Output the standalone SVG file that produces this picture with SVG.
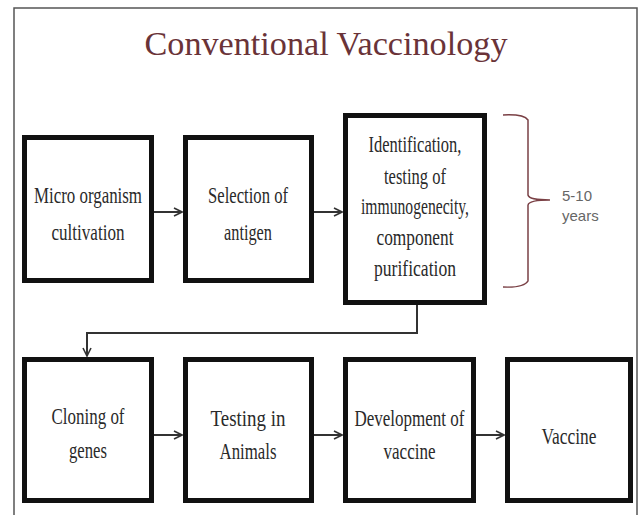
<svg xmlns="http://www.w3.org/2000/svg" width="641" height="515" viewBox="0 0 641 515">
<style>
.frame{fill:none;stroke:#555;stroke-width:1.5}
.box{fill:#fff;stroke:#111;stroke-width:5}
.t{font-family:"Liberation Serif","Times New Roman",serif;font-size:23px;fill:#2a2a2a;text-anchor:middle}
.title{font-family:"Liberation Serif","Times New Roman",serif;font-size:34px;fill:#6a3338;text-anchor:middle}
.side{font-family:"Liberation Sans",Arial,sans-serif;font-size:15px;fill:#666}
.conn{fill:none;stroke:#333;stroke-width:2}
.brace{fill:none;stroke:#7a4045;stroke-width:1.5}
</style>
<defs>
<marker id="arr" viewBox="0 0 10 10" refX="9" refY="5" markerWidth="10" markerHeight="10" markerUnits="userSpaceOnUse" orient="auto">
<path d="M1,1 L9,5 L1,9" fill="none" stroke="#333" stroke-width="1.6"/>
</marker>
</defs>
<rect width="641" height="515" fill="#fff"/>
<path class="frame" d="M14,515 L14,8 L637,8 L637,515"/>
<text class="title" x="326" y="55" textLength="363" lengthAdjust="spacingAndGlyphs">Conventional Vaccinology</text>

<g id="connectors">
<line class="conn" x1="154" y1="212" x2="182" y2="212" marker-end="url(#arr)"/>
<line class="conn" x1="314" y1="212" x2="342" y2="212" marker-end="url(#arr)"/>
<path class="conn" d="M417,305 L417,333 L87,333 L87,356" marker-end="url(#arr)"/>
<line class="conn" x1="154" y1="435" x2="182" y2="435" marker-end="url(#arr)"/>
<line class="conn" x1="314" y1="435" x2="342" y2="435" marker-end="url(#arr)"/>
<line class="conn" x1="476" y1="435" x2="504" y2="435" marker-end="url(#arr)"/>
</g>

<g id="n1">
<rect class="box" x="24.5" y="137.5" width="127" height="143"/>
<text class="t" x="88" y="203" textLength="108" lengthAdjust="spacingAndGlyphs">Micro organism</text>
<text class="t" x="88" y="240" textLength="73" lengthAdjust="spacingAndGlyphs">cultivation</text>
</g>
<g id="n2">
<rect class="box" x="185.5" y="137.5" width="126" height="143"/>
<text class="t" x="248" y="203" textLength="80" lengthAdjust="spacingAndGlyphs">Selection of</text>
<text class="t" x="248" y="240" textLength="48" lengthAdjust="spacingAndGlyphs">antigen</text>
</g>
<g id="n3">
<rect class="box" x="345.5" y="115.5" width="139" height="187"/>
<text class="t" x="415" y="152" textLength="93" lengthAdjust="spacingAndGlyphs">Identification,</text>
<text class="t" x="415" y="184" textLength="62" lengthAdjust="spacingAndGlyphs">testing of</text>
<text class="t" x="415" y="214" textLength="108" lengthAdjust="spacingAndGlyphs">immunogenecity,</text>
<text class="t" x="415" y="245" textLength="77" lengthAdjust="spacingAndGlyphs">component</text>
<text class="t" x="415" y="276" textLength="82" lengthAdjust="spacingAndGlyphs">purification</text>
</g>
<g id="brace">
<path class="brace" d="M503,115 Q524,114 528,120 L528,195 Q529,200 550,200 M528,205 Q529,200 550,200 M528,205 L528,281 Q524,288 503,287"/>
<text class="side" x="562" y="201">5-10</text>
<text class="side" x="562" y="221">years</text>
</g>
<g id="n4">
<rect class="box" x="24.5" y="359.5" width="127" height="141"/>
<text class="t" x="88" y="424" textLength="73" lengthAdjust="spacingAndGlyphs">Cloning of</text>
<text class="t" x="88" y="458" textLength="38" lengthAdjust="spacingAndGlyphs">genes</text>
</g>
<g id="n5">
<rect class="box" x="185.5" y="359.5" width="126" height="141"/>
<text class="t" x="248" y="426" textLength="75" lengthAdjust="spacingAndGlyphs">Testing in</text>
<text class="t" x="248" y="459" textLength="57" lengthAdjust="spacingAndGlyphs">Animals</text>
</g>
<g id="n6">
<rect class="box" x="345.5" y="359.5" width="128" height="141"/>
<text class="t" x="409.5" y="426" textLength="110" lengthAdjust="spacingAndGlyphs">Development of</text>
<text class="t" x="409.5" y="459" textLength="52" lengthAdjust="spacingAndGlyphs">vaccine</text>
</g>
<g id="n7">
<rect class="box" x="507.5" y="359.5" width="123" height="141"/>
<text class="t" x="569" y="444" textLength="55" lengthAdjust="spacingAndGlyphs">Vaccine</text>
</g>
</svg>
